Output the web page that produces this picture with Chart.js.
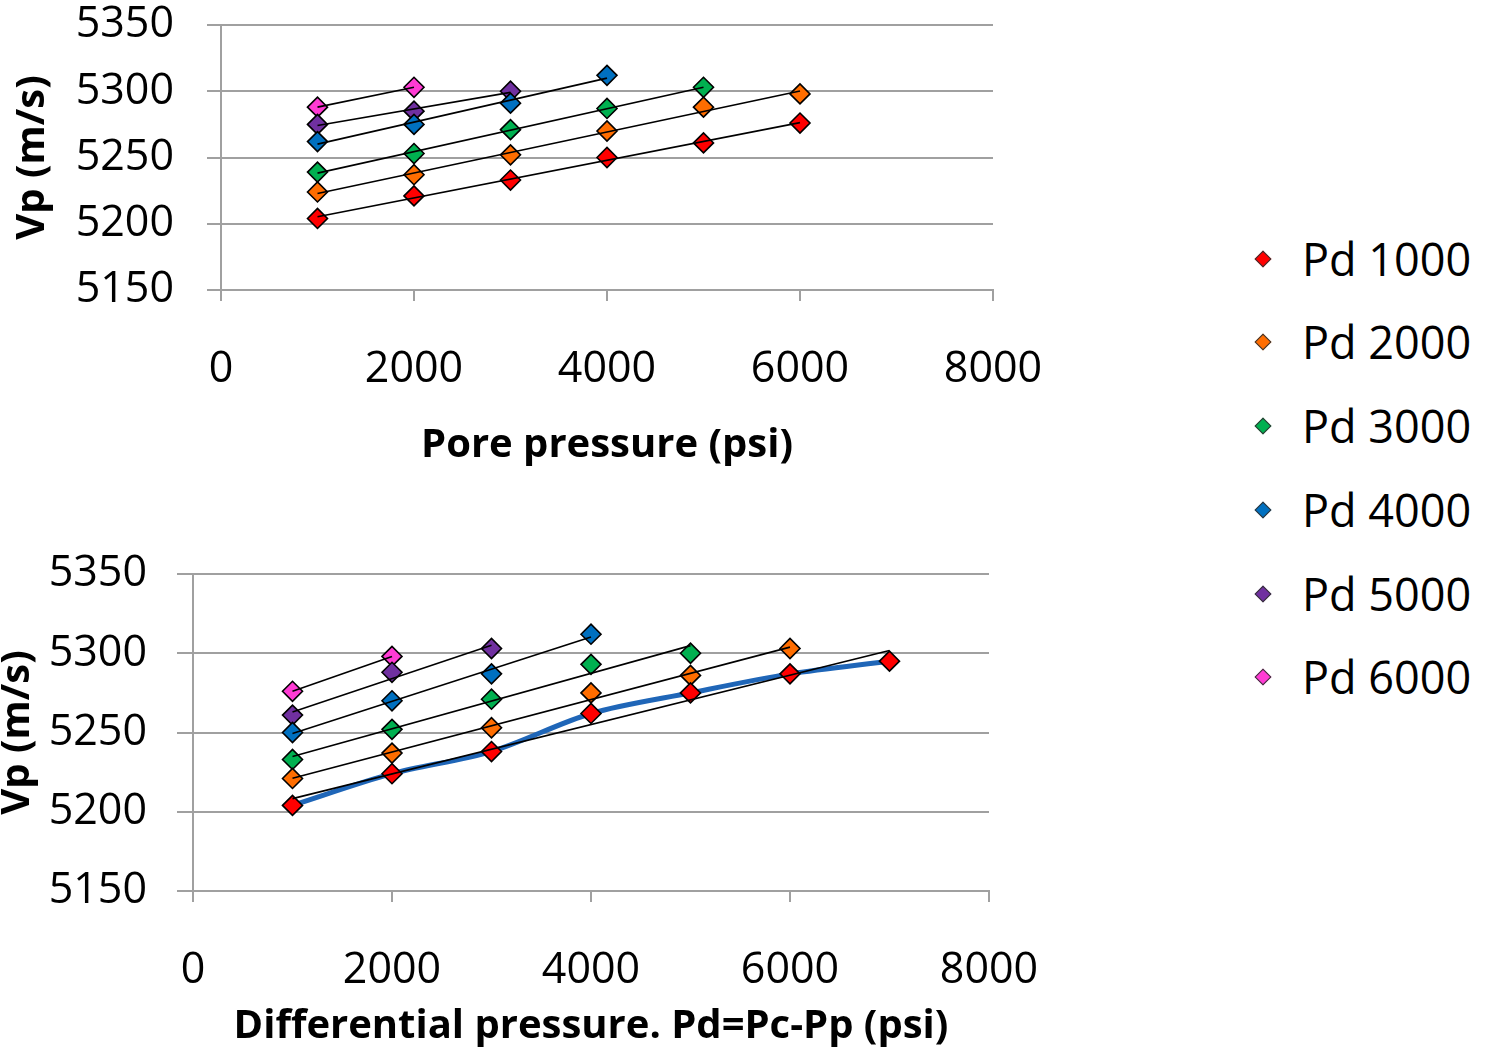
<!DOCTYPE html>
<html>
<head>
<meta charset="utf-8">
<script src="https://cdn.jsdelivr.net/npm/chart.js@4/dist/chart.umd.min.js"></script>
<style>
  html, body { margin: 0; padding: 0; background: #fff; }
  body { width: 1490px; height: 1048px; position: relative; overflow: hidden; font-family: 'Open Sans', sans-serif; }
  #poreWrap { position: absolute; left: 0; top: 0; width: 1060px; height: 480px; }
  #diffWrap { position: absolute; left: 0; top: 480px; width: 1060px; height: 568px; }
  .legend-item { position: absolute; left: 1250px; height: 50px; display: flex; align-items: center; }
  .legend-mark { width: 10px; height: 10px; transform: rotate(45deg); border: 1px solid #333; margin-left: 7px; margin-right: 33px; }
  .legend-text { font-size: 45px; color: #000; line-height: 50px; }
</style>
</head>
<body>
<div id="poreWrap"><canvas id="poreChart" width="1060" height="480"></canvas></div>
<div id="diffWrap"><canvas id="diffChart" width="1060" height="568"></canvas></div>
<div id="legend"></div>

<script>
// --- Data ---
const seriesLabels = ['Pd 1000', 'Pd 2000', 'Pd 3000', 'Pd 4000', 'Pd 5000', 'Pd 6000'];
const seriesColors = ['#FF0000', '#FF6D00', '#00B050', '#0070C0', '#7030A0', '#FF3BD4'];

// Vp vs pore pressure (x = pore pressure, psi)
const poreX = [1000, 2000, 3000, 4000, 5000, 6000];
const porePd1000 = [5204, 5221, 5233, 5250, 5261, 5276];
const porePd2000 = [5224, 5237, 5252, 5270, 5288, 5298];
const porePd3000 = [5239, 5253, 5271, 5287, 5303];
const porePd4000 = [5262, 5275, 5291, 5312];
const porePd5000 = [5275, 5285, 5300];
const porePd6000 = [5288, 5303];

// Vp vs differential pressure (x = Pd, psi)
const diffX = [1000, 2000, 3000, 4000, 5000, 6000, 7000];
const diffS1 = [5204, 5224, 5238, 5262, 5275, 5287, 5295];
const diffS2 = [5221, 5237, 5253, 5275, 5286, 5303];
const diffS3 = [5233, 5252, 5271, 5293, 5300];
const diffS4 = [5250, 5270, 5287, 5312];
const diffS5 = [5261, 5288, 5303];
const diffS6 = [5276, 5298];

const xTicks = [0, 2000, 4000, 6000, 8000];
const yTicks = [5150, 5200, 5250, 5300, 5350];

const poreSeries = [porePd1000, porePd2000, porePd3000, porePd4000, porePd5000, porePd6000];
const diffSeries = [diffS1, diffS2, diffS3, diffS4, diffS5, diffS6];

// --- Helpers ---
const toPoints = (xs, ys) => ys.map((y, i) => ({ x: xs[i], y: y }));

// least-squares line across the span of a series
const linearTrend = (xs, ys) => {
    const n = ys.length;
    const x = xs.slice(0, n);
    const mx = x.reduce((a, b) => a + b, 0) / n;
    const my = ys.reduce((a, b) => a + b, 0) / n;
    let sxy = 0, sxx = 0;
    for (let i = 0; i < n; i++) {
        sxy += (x[i] - mx) * (ys[i] - my);
        sxx += (x[i] - mx) * (x[i] - mx);
    }
    const slope = sxy / sxx;
    return [
        { x: x[0], y: my + slope * (x[0] - mx) },
        { x: x[n - 1], y: my + slope * (x[n - 1] - mx) }
    ];
};

const buildDatasets = (xs, seriesList) => {
    const trends = seriesList.map(ys => ({
        data: linearTrend(xs, ys),
        showLine: true,
        borderColor: '#000',
        borderWidth: 1.6,
        pointRadius: 0,
        order: 0
    }));
    const points = seriesList.map((ys, i) => ({
        label: seriesLabels[i],
        data: toPoints(xs, ys),
        showLine: false,
        pointStyle: 'rectRot',
        pointRadius: 10,
        pointBorderWidth: 1.6,
        pointBorderColor: '#000',
        pointBackgroundColor: seriesColors[i],
        order: 1
    }));
    return [...trends, ...points];
};

const gridGray = '#A0A0A0';
const tickFont = { family: "'Open Sans', sans-serif", size: 43, lineHeight: 1.0 };
const titleFont = { family: "'Open Sans', sans-serif", size: 40, weight: 'bold', lineHeight: 1.2 };

// Tick padding is kept tiny (it feeds the auto padding of the chart area);
// the label gap comes from a long tick whose dash only shows the short mark.
const makeOptions = (cfg) => ({
    animation: false,
    responsive: false,
    events: [],
    layout: { padding: cfg.padding },
    plugins: { legend: { display: false }, tooltip: { enabled: false } },
    scales: {
        x: {
            type: 'linear',
            min: 0,
            max: 8000,
            afterBuildTicks: s => { s.ticks = xTicks.map(v => ({ value: v })); },
            ticks: { font: tickFont, color: '#000', padding: 0, maxRotation: 0, callback: v => String(v) },
            grid: {
                drawOnChartArea: false, drawTicks: true, tickLength: cfg.xTickLen,
                tickBorderDash: [10, 1000], color: gridGray, lineWidth: 2
            },
            border: { display: true, color: gridGray, width: 2 },
            title: { display: true, text: cfg.xTitle, font: titleFont, color: '#000', padding: { top: 0, bottom: cfg.xTitlePad } },
            afterFit: s => { s.height = cfg.xHeight; }
        },
        y: {
            type: 'linear',
            min: 5150,
            max: 5350,
            afterBuildTicks: s => { s.ticks = yTicks.map(v => ({ value: v })); },
            ticks: { font: tickFont, color: '#000', padding: 3, callback: v => String(v) },
            grid: {
                drawTicks: true, tickLength: cfg.yTickLen,
                tickBorderDash: [0, cfg.yTickLen - cfg.yTickMark, cfg.yTickMark, 1000],
                color: gridGray, lineWidth: 2
            },
            border: { display: true, color: gridGray, width: 2 },
            title: { display: true, text: 'Vp (m/s)', font: { ...titleFont, lineHeight: cfg.yTitleLH }, color: '#000', padding: { top: cfg.yTitlePad, bottom: 0 } },
            afterFit: s => { s.width = cfg.yWidth; }
        }
    }
});

// --- Top chart: Vp vs pore pressure ---
new Chart(document.getElementById('poreChart').getContext('2d'), {
    type: 'scatter',
    data: { datasets: buildDatasets(poreX, poreSeries) },
    options: makeOptions({
        padding: { top: 25, right: 67, left: 0, bottom: 0 },
        xTitle: 'Pore pressure (psi)',
        xTickLen: 58,
        xTitlePad: 10.5,
        xHeight: 190,
        yTickLen: 44,
        yTickMark: 14,
        yTitlePad: 9,
        yTitleLH: 1.2,
        yWidth: 221
    })
});

// --- Bottom chart: Vp vs differential pressure ---
const diffDatasets = buildDatasets(diffX, diffSeries);
diffDatasets.push({
    data: toPoints(diffX, diffS1),
    showLine: true,
    borderColor: '#1F66B8',
    borderWidth: 5,
    tension: 0.3,
    pointRadius: 0,
    order: 2
});

new Chart(document.getElementById('diffChart').getContext('2d'), {
    type: 'scatter',
    data: { datasets: diffDatasets },
    options: makeOptions({
        padding: { top: 94, right: 71, left: 0, bottom: 0 },
        xTitle: 'Differential pressure. Pd=Pc-Pp (psi)',
        xTickLen: 58,
        xTitlePad: -3,
        xHeight: 157,
        yTickLen: 43,
        yTickMark: 16,
        yTitlePad: 0,
        yTitleLH: 0.9,
        yWidth: 193
    })
});

// --- Legend ---
const legendRows = [259, 342, 426, 510, 594, 677];
const legendEl = document.getElementById('legend');
seriesLabels.forEach((label, i) => {
    const item = document.createElement('div');
    item.className = 'legend-item';
    item.style.top = (legendRows[i] - 25) + 'px';
    item.innerHTML = `<span class="legend-mark" style="background:${seriesColors[i]}"></span><span class="legend-text">${label}</span>`;
    legendEl.appendChild(item);
});
</script>
</body>
</html>
